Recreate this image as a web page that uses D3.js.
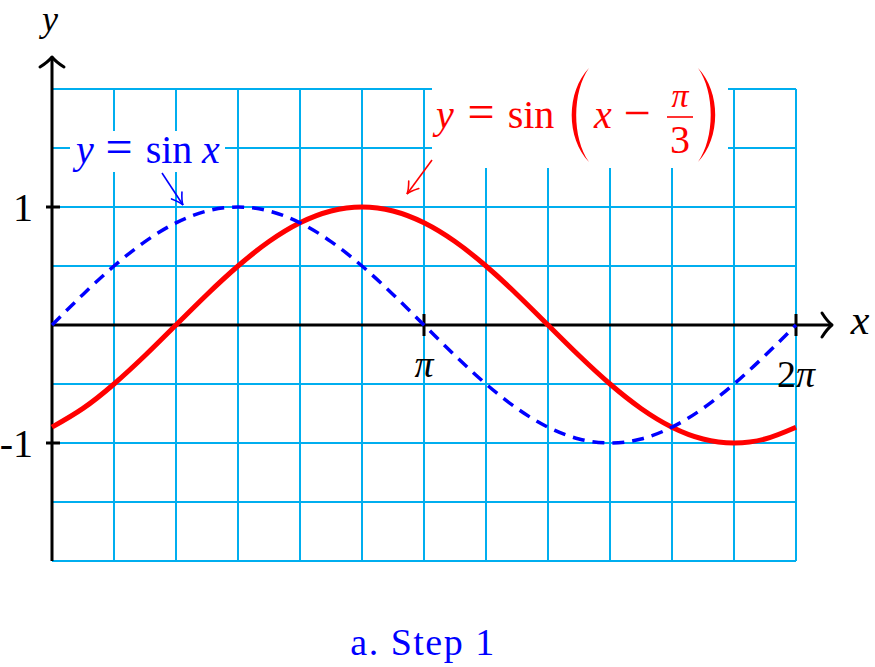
<!DOCTYPE html>
<html><head><meta charset="utf-8">
<script src="https://cdn.jsdelivr.net/npm/d3@7"></script>
<style>body{margin:0;background:#fff}svg{display:block}text{font-family:"Liberation Serif","DejaVu Serif",serif}</style>
</head><body>
<script>
// x positions in units of pi/12 (0 .. 24 = 0 .. 2pi)
const xSteps = [0,1,2,3,4,5,6,7,8,9,10,11,12,13,14,15,16,17,18,19,20,21,22,23,24];
// y = sin x
const sinValues = [0,0.259,0.5,0.707,0.866,0.966,1,0.966,0.866,0.707,0.5,0.259,0,-0.259,-0.5,-0.707,-0.866,-0.966,-1,-0.966,-0.866,-0.707,-0.5,-0.259,0];
// y = sin(x - pi/3)
const shiftedValues = [-0.866,-0.707,-0.5,-0.259,0,0.259,0.5,0.707,0.866,0.966,1,0.966,0.866,0.707,0.5,0.259,0,-0.259,-0.5,-0.707,-0.866,-0.966,-1,-0.966,-0.866];
const xTicks = [12,24];
const xTickLabels = ["π","2π"];
const yTicks = [1,-1];
const yTickLabels = ["1","-1"];
const xGrid = [0,2,4,6,8,10,12,14,16,18,20,22,24];
const yGrid = [-2,-1.5,-1,-0.5,0,0.5,1,1.5,2];

const W=875,H=667;
const svg=d3.select("body").append("svg").attr("width",W).attr("height",H);
const x=d3.scaleLinear().domain([0,24]).range([52,796]);
const y=d3.scaleLinear().domain([-2,2]).range([561,89]);
const gridC="#00AEEF";

// grid
const g=svg.append("g").attr("stroke",gridC).attr("stroke-width",2);
g.selectAll("line.v").data(xGrid).join("line").attr("x1",d=>x(d)).attr("x2",d=>x(d)).attr("y1",y(2)).attr("y2",y(-2));
g.selectAll("line.h").data(yGrid).join("line").attr("x1",x(0)).attr("x2",x(24)).attr("y1",d=>y(d)).attr("y2",d=>y(d));

// white label backgrounds
svg.append("rect").attr("x",70).attr("y",131).attr("width",155).attr("height",41).attr("fill","#fff");
svg.append("rect").attr("x",432).attr("y",66).attr("width",296).attr("height",102).attr("fill","#fff");

// axes
const ax=svg.append("g").attr("stroke","#000").attr("stroke-width",3).attr("fill","none").attr("stroke-linecap","butt");
const x0=x(0), y0=y(0);
ax.append("line").attr("x1",x0).attr("x2",x0).attr("y1",y(-2)).attr("y2",57);
ax.append("path").attr("stroke-linejoin","round").attr("stroke-linecap","round")
  .attr("d",`M${x0-12},${67} Q${x0-4},${62} ${x0},${57} Q${x0+4},${62} ${x0+12},${67}`);
const xEnd=x(24)+36;
ax.append("line").attr("x1",x0).attr("x2",xEnd).attr("y1",y0).attr("y2",y0);
ax.append("path").attr("stroke-linejoin","round").attr("stroke-linecap","round")
  .attr("d",`M${xEnd-10},${y0-12} Q${xEnd-5},${y0-4} ${xEnd},${y0} Q${xEnd-5},${y0+4} ${xEnd-10},${y0+12}`);
ax.selectAll("line.yt").data(yTicks).join("line").attr("x1",x0-6).attr("x2",x0+8).attr("y1",d=>y(d)).attr("y2",d=>y(d));
ax.selectAll("line.xt").data(xTicks).join("line").attr("x1",d=>x(d)).attr("x2",d=>x(d)).attr("y1",y0-11).attr("y2",y0+11);

// curves
const line=d3.line().x((d,i)=>x(xSteps[i])).y(d=>y(d)).curve(d3.curveNatural);
svg.append("path").attr("d",line(shiftedValues)).attr("fill","none").attr("stroke","#FF0000").attr("stroke-width",5);
svg.append("path").attr("d",line(sinValues)).attr("fill","none").attr("stroke","#0000FF").attr("stroke-width",3.5).attr("stroke-dasharray","12,8");

// tick labels
svg.selectAll("text.yt").data(yTicks).join("text").attr("x",33).attr("y",d=>y(d)+14).attr("text-anchor","end")
  .attr("font-size",40).text((d,i)=>yTickLabels[i]);
const xl=svg.selectAll("text.xt").data(xTicks).join("text").attr("x",d=>x(d)).attr("y",377).attr("text-anchor","middle")
  .attr("font-size",38);
xl.each(function(d,i){
  const t=d3.select(this), lab=xTickLabels[i];
  if(lab.length>1){ t.append("tspan").attr("dy",10).text(lab.slice(0,-1)); t.append("tspan").attr("font-style","italic").text(lab.slice(-1)); }
  else t.append("tspan").attr("font-style","italic").text(lab);
});

// axis labels
svg.append("text").attr("x",50).attr("y",31).attr("text-anchor","middle").attr("font-size",36).attr("font-style","italic").text("y");
svg.append("text").attr("x",860).attr("y",334).attr("text-anchor","middle").attr("font-size",42).attr("font-style","italic").text("x");

// blue label
const blue="#0000FF";
const bl=svg.append("g").attr("fill",blue).attr("font-size",40);
bl.append("text").attr("x",85).attr("y",163).attr("text-anchor","middle").attr("font-style","italic").text("y");
bl.append("text").attr("x",119).attr("y",163).attr("text-anchor","middle").attr("font-size",48).text("=");
bl.append("text").attr("x",169).attr("y",163).attr("text-anchor","middle").text("sin");
bl.append("text").attr("x",211).attr("y",163).attr("text-anchor","middle").attr("font-style","italic").text("x");

// red label
const red="#FF0000";
const rl=svg.append("g").attr("fill",red).attr("font-size",40);
rl.append("text").attr("x",445).attr("y",128).attr("text-anchor","middle").attr("font-style","italic").text("y");
rl.append("text").attr("x",481).attr("y",128).attr("text-anchor","middle").attr("font-size",48).text("=");
rl.append("text").attr("x",531).attr("y",128).attr("text-anchor","middle").text("sin");
rl.append("text").attr("x",603).attr("y",128).attr("text-anchor","middle").attr("font-style","italic").text("x");
rl.append("text").attr("x",637).attr("y",129).attr("text-anchor","middle").attr("font-size",48).text("−");
rl.append("text").attr("x",680).attr("y",107).attr("text-anchor","middle").attr("font-size",34).attr("font-style","italic").text("π");
rl.append("text").attr("x",680).attr("y",153).attr("text-anchor","middle").attr("font-size",40).text("3");
svg.append("line").attr("x1",667).attr("x2",693).attr("y1",117).attr("y2",117).attr("stroke",red).attr("stroke-width",1.6);
svg.append("path").attr("d","M589,68 C566,92 566,138 589,162 C572,138 572,92 589,68 Z").attr("fill",red);
svg.append("path").attr("d","M698,68 C721,92 721,138 698,162 C715,138 715,92 698,68 Z").attr("fill",red);

// annotation arrows
function arrow(x1,y1,x2,y2,col){
  const a=Math.atan2(y2-y1,x2-x1), L=13, s=0.5;
  const p1=[x2-L*Math.cos(a-s),y2-L*Math.sin(a-s)], p2=[x2-L*Math.cos(a+s),y2-L*Math.sin(a+s)];
  svg.append("line").attr("x1",x1).attr("y1",y1).attr("x2",x2).attr("y2",y2).attr("stroke",col).attr("stroke-width",1.6);
  svg.append("path").attr("d",`M${p1[0]},${p1[1]} Q${x2-4*Math.cos(a-0.2)},${y2-4*Math.sin(a-0.2)} ${x2},${y2} Q${x2-4*Math.cos(a+0.2)},${y2-4*Math.sin(a+0.2)} ${p2[0]},${p2[1]}`)
    .attr("fill","none").attr("stroke",col).attr("stroke-width",1.6).attr("stroke-linecap","round");
}
arrow(162,173,183,205,blue);
arrow(432,160,407,194,red);

// caption
svg.append("text").attr("x",423).attr("y",655).attr("text-anchor","middle").attr("font-size",38).attr("letter-spacing",1.5).attr("fill",blue).text("a. Step 1");
</script>
</body></html>
